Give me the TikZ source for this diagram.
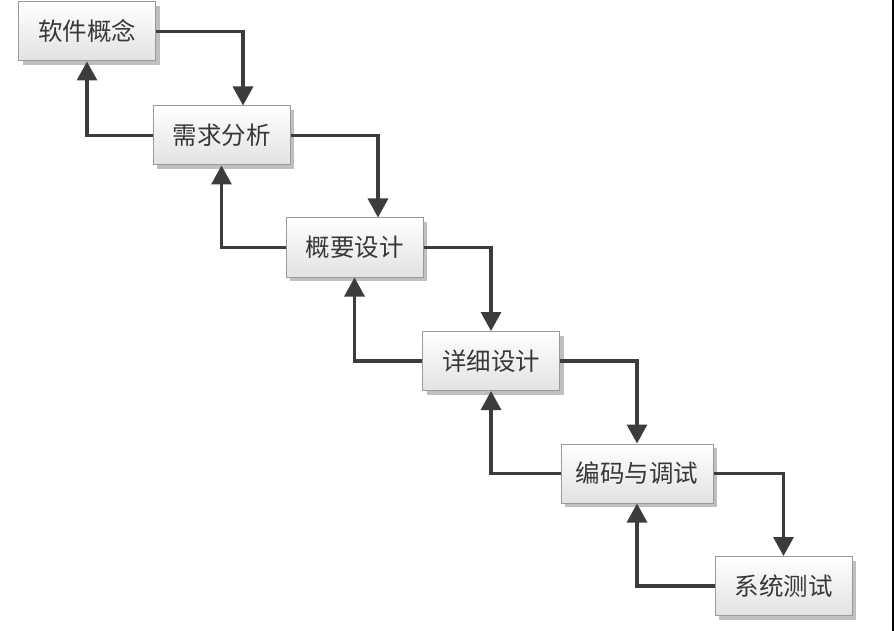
\documentclass[tikz,border=0pt]{standalone}
\usepackage{fontspec}
\newfontfamily\cjk{Noto Sans CJK SC}
\usetikzlibrary{arrows.meta,shadows}
\definecolor{boxborder}{HTML}{9A9A9A}
\definecolor{boxbottom}{HTML}{E2E2E2}
\definecolor{arrowcol}{HTML}{3C3C3C}
\definecolor{txtcol}{HTML}{383838}
\definecolor{shadowcol}{HTML}{B0B0B0}
\begin{document}
\begin{tikzpicture}[x=1pt,y=-1pt,
  stagebox/.style={draw=boxborder, line width=1pt, top color=white, bottom color=boxbottom,
    minimum width=137pt, minimum height=59pt, inner sep=0pt,
    font=\cjk\fontsize{24.5}{24.5}\selectfont, text=txtcol,
    drop shadow={shadow xshift=4pt, shadow yshift=-4pt, fill=shadowcol, opacity=0.8}},
  flow/.style={draw=arrowcol, line width=3.2pt, -{Triangle[length=19pt,width=20pt]}}]
\useasboundingbox (0,0) rectangle (894,631);
\fill[white] (0,0) rectangle (894,631);
\node[stagebox] (b1) at (87,31.5) {软件概念};
\node[stagebox] (b2) at (221.5,135.5) {需求分析};
\node[stagebox] (b3) at (354.5,247.5) {概要设计};
\node[stagebox] (b4) at (491,361) {详细设计};
\node[stagebox, minimum width=152pt] (b5) at (637,473.5) {编码与调试};
\node[stagebox] (b6) at (783.5,586) {系统测试};
% forward arrows
\draw[flow] (b1.east) -| ([xshift=21.5pt]b2.north);
\draw[flow] (b2.east) -| ([xshift=23.5pt]b3.north);
\draw[flow] (b3.east) -| (b4.north);
\draw[flow] (b4.east) -| (b5.north);
\draw[flow] (b5.east) -| (b6.north);
% return arrows
\draw[flow] (b2.west) -| (b1.south);
\draw[flow] (b3.west) -| (b2.south);
\draw[flow] (b4.west) -| (b3.south);
\draw[flow] (b5.west) -| (b4.south);
\draw[flow] (b6.west) -| (b5.south);
\draw[line width=1.5pt, black] (893,0) -- (893,631);
\end{tikzpicture}
\end{document}
